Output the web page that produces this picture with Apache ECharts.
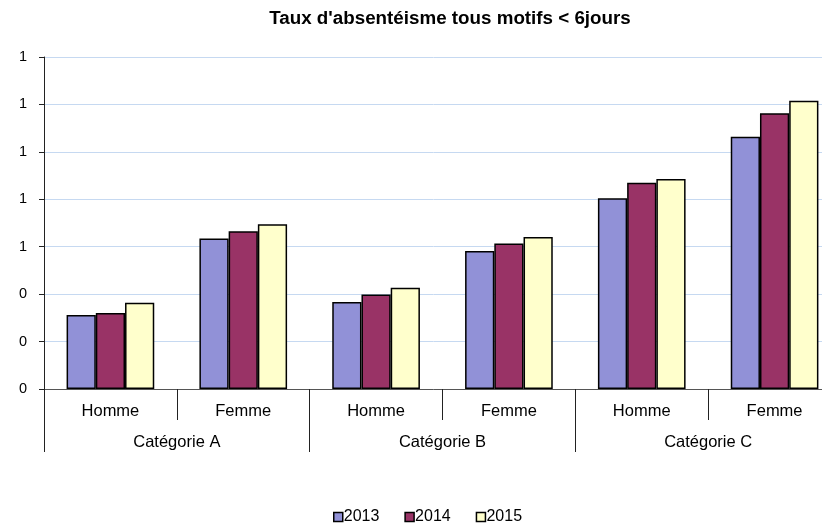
<!DOCTYPE html>
<html><head><meta charset="utf-8">
<script src="https://cdn.jsdelivr.net/npm/echarts@6/dist/echarts.min.js"></script>
<style>html,body{margin:0;padding:0;background:#fff}#c{width:822px;height:524px}</style>
</head><body><div id="c"></div>
<script>
const subCategories = ['Homme','Femme','Homme','Femme','Homme','Femme'];
const groups = ['Catégorie A','Catégorie B','Catégorie C'];
const seriesNames = ['2013','2014','2015'];
const v2013 = [0.312, 0.635, 0.367, 0.582, 0.804, 1.064];
const v2014 = [0.321, 0.665, 0.399, 0.614, 0.870, 1.163];
const v2015 = [0.364, 0.695, 0.427, 0.641, 0.886, 1.215];
const yTickLabels = ['0','0','0','1','1','1','1','1'];
const colors = ['#9191d7','#993366','#ffffcc'];
const FONT = '"Liberation Sans", Arial, sans-serif';

const chart = echarts.init(document.getElementById('c'), null, {renderer:'canvas'});
const values = [v2013, v2014, v2015];
chart.setOption({
  animation:false,
  title:{text:"Taux d'absentéisme tous motifs < 6jours", left:450, textAlign:'center', top:9, padding:0,
    textStyle:{fontFamily:FONT, fontSize:18.8, fontWeight:'bold', color:'#000'}},
  legend:{top:509, left:333, padding:0, itemWidth:9, itemHeight:9, itemGap:25,
    icon:'rect', textStyle:{fontFamily:FONT, fontSize:16, color:'#000', padding:[0,0,0,-4]},
    data: seriesNames.map((n,i)=>({name:n, itemStyle:{color:colors[i], borderColor:'#000', borderWidth:1.5}}))},
  grid:{left:44, right:-19, top:57, bottom:135, outerBoundsMode:'none', containLabel:false},
  xAxis:[
    {type:'category', data:subCategories, position:'bottom',
      axisLine:{show:true, lineStyle:{color:'#555', width:1}},
      axisTick:{show:true, interval:0, alignWithLabel:false, length:31, lineStyle:{color:'#222'}},
      axisLabel:{show:true, interval:0, margin:14, fontFamily:FONT, fontSize:16.5, color:'#000'}},
    {type:'category', data:groups, position:'bottom',
      axisLine:{show:false},
      axisTick:{show:true, interval:0, length:63, lineStyle:{color:'#222'}},
      axisLabel:{show:true, interval:0, margin:45, fontFamily:FONT, fontSize:16.5, color:'#000'}}
  ],
  yAxis:{type:'value', min:0, max:1.4, interval:0.2,
    axisLine:{show:true, lineStyle:{color:'#222'}},
    axisTick:{show:true, length:5, lineStyle:{color:'#222'}},
    splitLine:{lineStyle:{color:'#c6d9f1'}},
    axisLabel:{margin:17, fontFamily:FONT, fontSize:14.5, color:'#000',
      formatter:(v)=>yTickLabels[Math.round(v/0.2)]}},
  series: seriesNames.map((n,i)=>({name:n, type:'bar', xAxisIndex:0, data:values[i],
    barGap:'0%', barCategoryGap:'34%',
    itemStyle:{color:colors[i], borderColor:'#000', borderWidth:1.5}}))
});
</script></body></html>
